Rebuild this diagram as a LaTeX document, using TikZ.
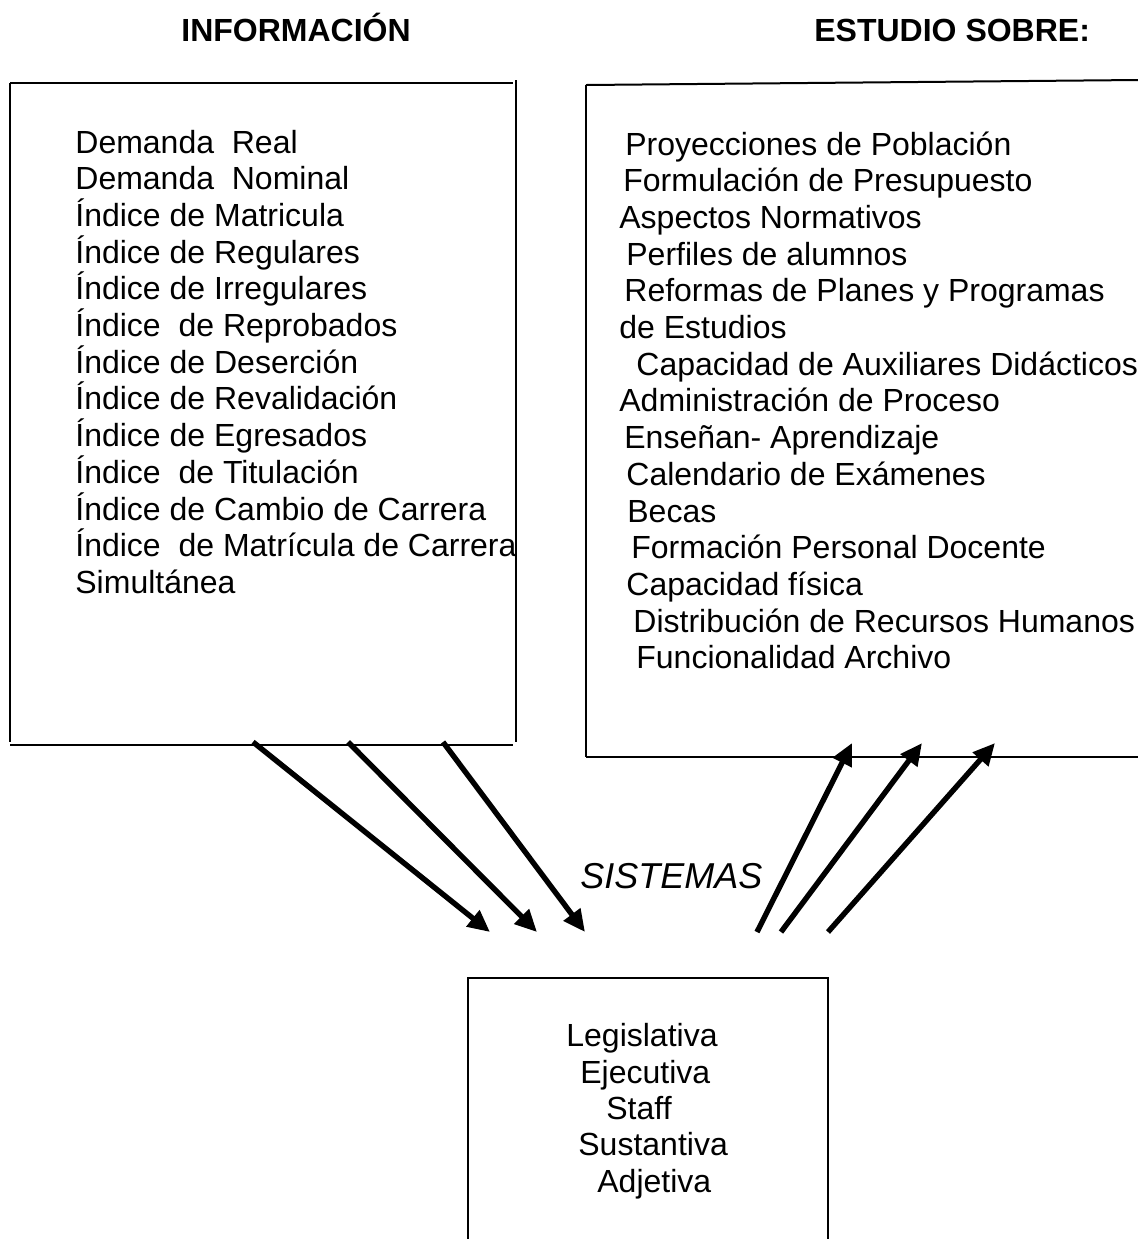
\documentclass[tikz,border=0pt]{standalone}
\usepackage{fontspec}
\setmainfont{Liberation Sans}
\usetikzlibrary{arrows.meta}
\begin{document}
\begin{tikzpicture}[x=0.5pt,y=-0.5pt,
  item/.style={anchor=base west,inner sep=0pt,font=\fontsize{16}{18.4}\selectfont},
  heading/.style={item,font=\fontsize{16}{18.4}\selectfont\bfseries},
  label/.style={item,font=\fontsize{18}{21}\selectfont\itshape},
  frame/.style={line width=1pt},
  flow/.style={line width=2.7pt,-{Triangle[length=11pt,width=10pt]}}]
\useasboundingbox (0,0) rectangle (1138,1239);

% headings
\node[heading] (hinfo) at (181,41) {INFORMACIÓN};
\node[heading] (hest)  at (814,41) {ESTUDIO SOBRE:};

% left frame
\draw[frame] (10,83) -- (513,83);
\draw[frame] (10,83) -- (10,742);
\draw[frame] (10,745) -- (513,745);
\draw[frame] (516,80) -- (516,742);

% right frame (open on the right side)
\draw[frame] (586,85) -- (1138,80);
\draw[frame] (586,85) -- (586,757);
\draw[frame] (586,757) -- (1138,757);

% lower frame (open at the bottom)
\draw[frame] (468,1239) -- (468,978) -- (828,978) -- (828,1239);

% left list
\node[item] (l1)  at (75,153.0) {Demanda\ \ Real};
\node[item] (l2)  at (75,189.7) {Demanda\ \ Nominal};
\node[item] (l3)  at (75,226.4) {Índice de Matricula};
\node[item] (l4)  at (75,263.1) {Índice de Regulares};
\node[item] (l5)  at (75,299.8) {Índice de Irregulares};
\node[item] (l6)  at (75,336.5) {Índice\ \ de Reprobados};
\node[item] (l7)  at (75,373.2) {Índice de Deserción};
\node[item] (l8)  at (75,409.9) {Índice de Revalidación};
\node[item] (l9)  at (75,446.6) {Índice de Egresados};
\node[item] (l10) at (75,483.3) {Índice\ \ de Titulación};
\node[item] (l11) at (75,520.0) {Índice de Cambio de Carrera};
\node[item] (l12) at (75,556.7) {Índice\ \ de Matrícula de Carrera};
\node[item] (l13) at (75,593.4) {Simultánea};

% right list
\node[item] (r1)  at (625,155.0) {Proyecciones de Población};
\node[item] (r2)  at (623,191.7) {Formulación de Presupuesto};
\node[item] (r3)  at (619,228.4) {Aspectos Normativos};
\node[item] (r4)  at (626,265.1) {Perfiles de alumnos};
\node[item] (r5)  at (624,301.8) {Reformas de Planes y Programas};
\node[item] (r6)  at (619,338.5) {de Estudios};
\node[item] (r7)  at (636,375.2) {Capacidad de Auxiliares Didácticos};
\node[item] (r8)  at (619,411.9) {Administración de Proceso};
\node[item] (r9)  at (624,448.6) {Enseñan- Aprendizaje};
\node[item] (r10) at (626,485.3) {Calendario de Exámenes};
\node[item] (r11) at (627,522.0) {Becas};
\node[item] (r12) at (631,558.7) {Formación Personal Docente};
\node[item] (r13) at (626,595.4) {Capacidad física};
\node[item] (r14) at (633,632.1) {Distribución de Recursos Humanos};
\node[item] (r15) at (636,668.8) {Funcionalidad Archivo};

% label between the arrow groups
\node[label] (sis) at (580,888) {SISTEMAS};

% lower list
\node[item] (s1) at (566,1046) {Legislativa};
\node[item] (s2) at (580,1083) {Ejecutiva};
\node[item] (s3) at (606,1119) {Staff};
\node[item] (s4) at (578,1155) {Sustantiva};
\node[item] (s5) at (597,1192) {Adjetiva};

% arrow end points
\coordinate (a1) at (253,742);
\coordinate (a2) at (348,742);
\coordinate (a3) at (443,742);
\coordinate (b1) at (490,932);
\coordinate (b2) at (537,932);
\coordinate (b3) at (585,932);
\coordinate (c1) at (757,932);
\coordinate (c2) at (781,932);
\coordinate (c3) at (828,932);
\coordinate (d1) at (852,743);
\coordinate (d2) at (922,743);
\coordinate (d3) at (995,743);

% arrows
\draw[flow] (a1) -- (b1);
\draw[flow] (a2) -- (b2);
\draw[flow] (a3) -- (b3);
\draw[flow] (c1) -- (d1);
\draw[flow] (c2) -- (d2);
\draw[flow] (c3) -- (d3);
\end{tikzpicture}
\end{document}
